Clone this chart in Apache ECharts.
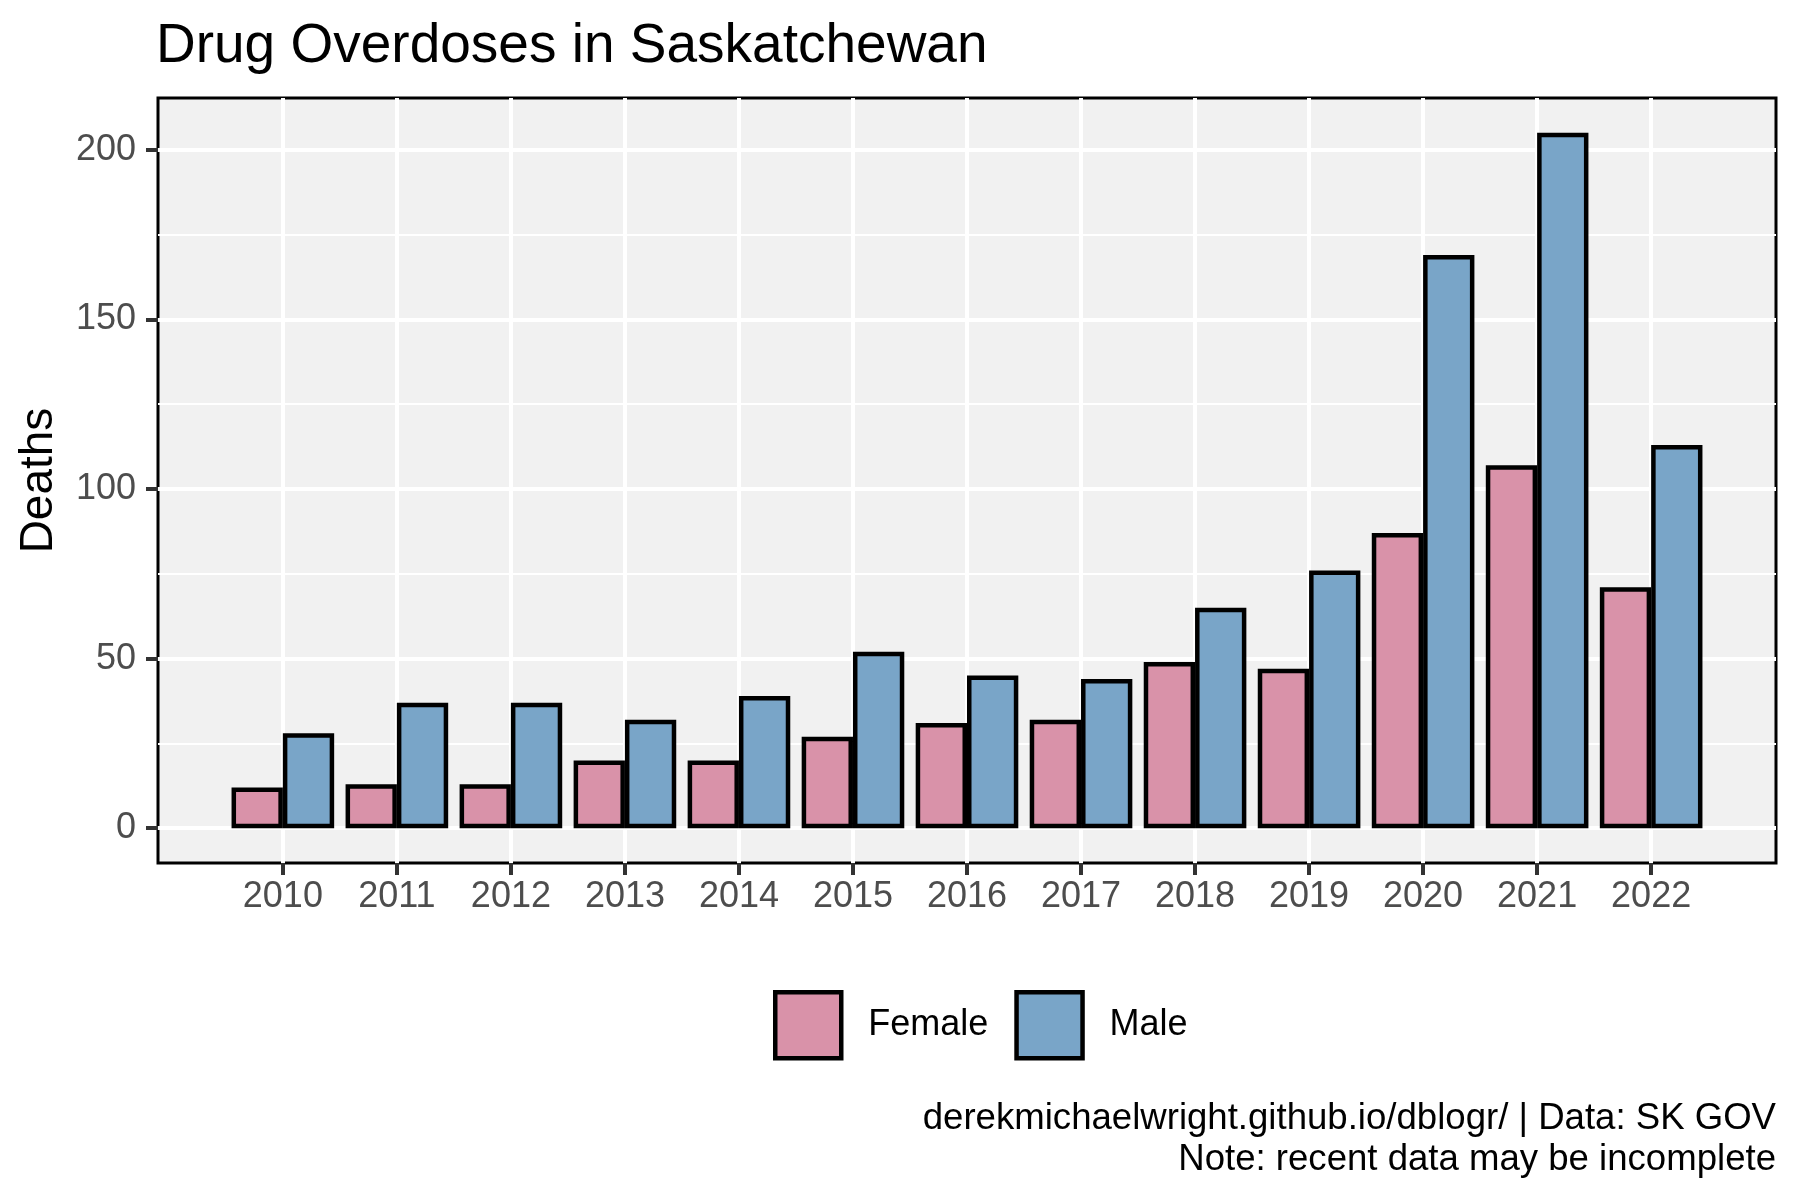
<!DOCTYPE html>
<html lang="en">
  <head>
    <meta charset="UTF-8" />
    <title>Drug Overdoses in Saskatchewan</title>
    <script src="https://cdn.jsdelivr.net/npm/echarts@6.0.0/dist/echarts.min.js"></script>
    <style>
      html, body { margin: 0; padding: 0; background: #fff; }
    </style>
  </head>
  <body>
    <div id="chart" style="width: 1800px; height: 1200px"></div>

    <script>
      // data
      var years = [2010, 2011, 2012, 2013, 2014, 2015, 2016, 2017, 2018, 2019, 2020, 2021, 2022]
      var female = [12, 13, 13, 20, 20, 27, 31, 32, 49, 47, 87, 107, 71]
      var male = [28, 37, 37, 32, 39, 52, 45, 44, 65, 76, 169, 205, 113]
      var yTicks = [0, 50, 100, 150, 200]
      var yMinor = [25, 75, 125, 175]
      var captionLines = ["derekmichaelwright.github.io/dblogr/ | Data: SK GOV", "Note: recent data may be incomplete"]

      var FONT = "Liberation Sans, Arial, Helvetica, sans-serif"

      function pairs(vals) {
        var out = []
        for (let i = 0; i < years.length; i++) {
          out.push([years[i], vals[i]])
        }
        return out
      }

      var mCharts = echarts.init(document.getElementById("chart"))

      // caption: one right-aligned text per line
      var captionGraphics = []
      for (let i = 0; i < captionLines.length; i++) {
        captionGraphics.push({
          type: "text",
          right: 24,
          top: 1100 + i * 41,
          style: {
            text: captionLines[i],
            font: "36.6px " + FONT,
            fill: "#000",
          },
        })
      }

      var option = {
        animation: false,
        textStyle: { fontFamily: FONT },
        title: {
          text: "Drug Overdoses in Saskatchewan",
          left: 156,
          top: 19,
          padding: 0,
          textStyle: { fontFamily: FONT, fontSize: 55, fontWeight: "normal", color: "#000" },
        },
        legend: {
          left: 773,
          top: 990,
          orient: "horizontal",
          itemWidth: 66,
          itemHeight: 66,
          itemGap: 26,
          padding: 0,
          icon: "rect",
          itemStyle: { borderColor: "#000", borderWidth: 4.5 },
          textStyle: { fontFamily: FONT, fontSize: 36, color: "#000", padding: [0, 0, 0, 22] },
          data: ["Female", "Male"],
        },
        grid: {
          left: 158,
          right: 24,
          top: 98,
          bottom: 337,
          show: true,
          backgroundColor: "#F1F1F1",
          borderColor: "#000",
          borderWidth: 3,
          containLabel: false,
          outerBoundsMode: "none",
        },
        xAxis: {
          type: "value",
          // continuous year scale, padded like the original
          min: 2008.905,
          max: 2023.095,
          axisLine: { show: false, onZero: false },
          axisTick: {
            show: true,
            customValues: years,
            length: 12,
            lineStyle: { color: "#333", width: 4 },
          },
          axisLabel: {
            customValues: years,
            margin: 16,
            fontSize: 36,
            color: "#4D4D4D",
            fontFamily: FONT,
            formatter: function (v) {
              return String(v)
            },
          },
          splitLine: { show: true, lineStyle: { color: "#fff", width: 4 } },
        },
        yAxis: [
          {
            type: "value",
            min: -10.25,
            max: 215.25,
            name: "Deaths",
            nameLocation: "middle",
            nameRotate: 90,
            nameGap: 96,
            nameTextStyle: { fontFamily: FONT, fontSize: 46, color: "#000" },
            axisLine: { show: false, onZero: false },
            axisTick: {
              show: true,
              customValues: yTicks,
              length: 12,
              lineStyle: { color: "#333", width: 4 },
            },
            axisLabel: {
              customValues: yTicks,
              margin: 22,
              fontSize: 36,
              color: "#4D4D4D",
              fontFamily: FONT,
            },
            splitLine: { show: true, lineStyle: { color: "#fff", width: 4 } },
          },
          {
            // minor grid lines only
            type: "value",
            min: -10.25,
            max: 215.25,
            position: "left",
            axisLine: { show: false, onZero: false },
            axisTick: { show: false, customValues: yMinor },
            axisLabel: { show: false, customValues: yMinor },
            splitLine: { show: true, lineStyle: { color: "#fff", width: 2 } },
          },
        ],
        series: [
          {
            name: "Female",
            type: "bar",
            data: pairs(female),
            barWidth: "45%",
            barGap: "0%",
            itemStyle: { color: "#D992A9", borderColor: "#000", borderWidth: 4.5 },
          },
          {
            name: "Male",
            type: "bar",
            data: pairs(male),
            barWidth: "45%",
            barGap: "0%",
            itemStyle: { color: "#79A5C8", borderColor: "#000", borderWidth: 4.5 },
          },
        ],
        graphic: captionGraphics,
      }

      mCharts.setOption(option)
    </script>
  </body>
</html>
